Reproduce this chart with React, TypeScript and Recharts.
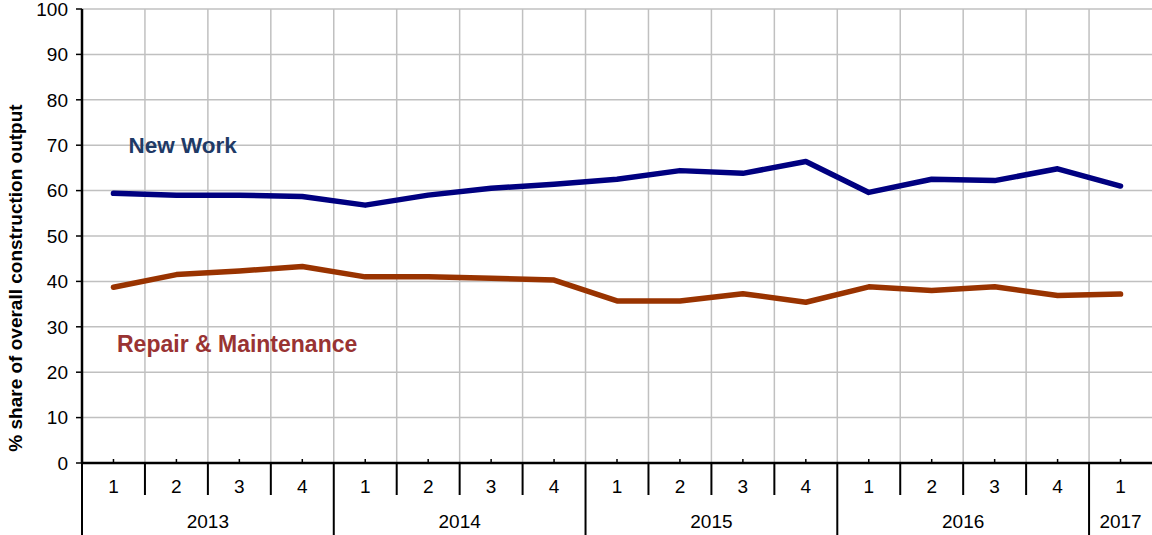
import React from 'react';
import { LineChart, Line, XAxis, YAxis, CartesianGrid } from 'recharts';

const quarterLabels = ['1', '2', '3', '4', '1', '2', '3', '4', '1', '2', '3', '4', '1', '2', '3', '4', '1'];
const yearLabels = ['2013', '2014', '2015', '2016', '2017'];
const quartersPerYear = [4, 4, 4, 4, 1];
const newWorkShare = [59.4, 59.0, 59.0, 58.7, 56.8, 59.0, 60.5, 61.4, 62.5, 64.4, 63.8, 66.4, 59.6, 62.5, 62.2, 64.8, 61.0];
const repairShare = [38.7, 41.5, 42.3, 43.3, 41.0, 41.0, 40.7, 40.3, 35.7, 35.7, 37.3, 35.4, 38.8, 38.0, 38.8, 36.9, 37.2];
const yTicks = [0, 10, 20, 30, 40, 50, 60, 70, 80, 90, 100];

const FONT = '"Liberation Sans", Arial, sans-serif';
const X_MIN = -0.5;
const X_MAX = quarterLabels.length - 0.5;

const data = quarterLabels.map((q, i) => ({ i, q, newWork: newWorkShare[i], repair: repairShare[i] }));
const quarterTicks = quarterLabels.map((_, i) => i);
// inner category boundaries (the right edge of the plot is cut by the picture frame)
const boundaryTicks = [X_MIN, ...quarterLabels.slice(0, -1).map((_, i) => i + 0.5)];
const yearStarts: number[] = [];
{
  let acc = 0;
  quartersPerYear.forEach((n) => {
    yearStarts.push(acc);
    acc += n;
  });
}

const QuarterTick = (props: any) => {
  const { x, y, payload, width } = props;
  const i = payload.value as number;
  const bw = (typeof width === 'number' && width > 0 ? width : 1070) / (X_MAX - X_MIN);
  const yi = yearStarts.indexOf(i);
  return (
    <g>
      <line x1={x} y1={y - 4} x2={x} y2={y} stroke="#000" strokeWidth={1.5} />
      <line x1={x - bw / 2} y1={y} x2={x - bw / 2} y2={y + (yi >= 0 ? 72 : 32)} stroke="#000" strokeWidth={2} />
      <text x={x} y={y + 23} dy="0.355em" textAnchor="middle" fill="#000" fontSize={19} fontFamily={FONT}>
        {quarterLabels[i]}
      </text>
      {yi >= 0 && (
        <text
          x={x + ((quartersPerYear[yi] - 1) / 2) * bw}
          y={y + 58}
          dy="0.355em"
          textAnchor="middle"
          fill="#000"
          fontSize={19}
          fontFamily={FONT}
        >
          {yearLabels[yi]}
        </text>
      )}
    </g>
  );
};

const verticalGen = (args: any) => {
  const scale = args?.xAxis?.scale;
  const off = args?.offset;
  return boundaryTicks.map((t) => {
    if (typeof scale === 'function') return scale(t);
    if (scale && typeof scale.map === 'function') return scale.map(t);
    if (off) return off.left + ((t - X_MIN) / (X_MAX - X_MIN)) * off.width;
    return 0;
  });
};

export default function App() {
  return (
    <div style={{ position: 'absolute', left: 0, top: 0, width: 1152, height: 535, background: '#fff' }}>
      <LineChart width={1152} height={535} data={data} margin={{ top: 9, right: 0, bottom: 0, left: 0 }}>
        <CartesianGrid stroke="#c0c0c0" strokeWidth={1.5} verticalCoordinatesGenerator={verticalGen} />
        <XAxis
          dataKey="i"
          type="number"
          domain={[X_MIN, X_MAX]}
          allowDataOverflow
          ticks={quarterTicks}
          interval={0}
          height={72}
          tickSize={0}
          tickMargin={0}
          axisLine={{ stroke: '#000', strokeWidth: 2.5 }}
          tickLine={false}
          tick={<QuarterTick />}
        />
        <YAxis
          domain={[0, 100]}
          ticks={yTicks}
          interval={0}
          width={82}
          tickSize={6}
          tickMargin={8}
          axisLine={{ stroke: '#000', strokeWidth: 2.5 }}
          tickLine={{ stroke: '#000', strokeWidth: 1.5 }}
          tick={{ fill: '#000', fontSize: 19, fontFamily: FONT }}
        />
        <Line
          type="linear"
          dataKey="newWork"
          stroke="#000080"
          strokeWidth={5.5}
          strokeLinecap="round"
          strokeLinejoin="round"
          dot={false}
          activeDot={false}
          isAnimationActive={false}
        />
        <Line
          type="linear"
          dataKey="repair"
          stroke="#993300"
          strokeWidth={5.5}
          strokeLinecap="round"
          strokeLinejoin="round"
          dot={false}
          activeDot={false}
          isAnimationActive={false}
        />
      </LineChart>
      <svg width={1152} height={535} style={{ position: 'absolute', left: 0, top: 0, pointerEvents: 'none' }}>
        <text x={22} y={278} transform="rotate(-90 22 278)" textAnchor="middle" fontSize={19} fontWeight="bold" fill="#000" fontFamily={FONT}>
          % share of overall construction output
        </text>
        <text x={128.5} y={153} fontSize={22.5} fontWeight="bold" fill="#1F3A66" fontFamily={FONT}>
          New Work
        </text>
        <text x={117} y={352} fontSize={23} fontWeight="bold" fill="#993333" fontFamily={FONT}>
          Repair &amp; Maintenance
        </text>
      </svg>
    </div>
  );
}
